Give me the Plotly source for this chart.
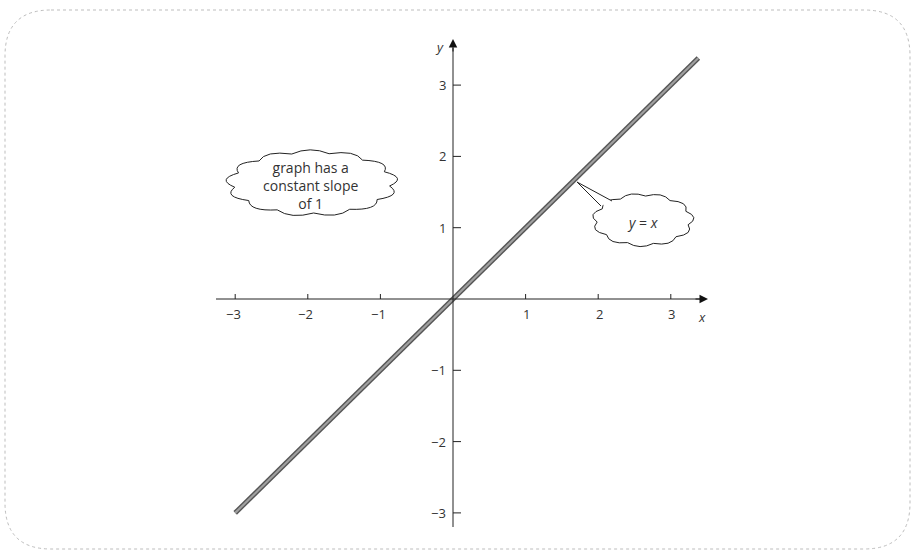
import math
import plotly.graph_objects as go

# ---- data ----
x_ticks = [-3, -2, -1, 1, 2, 3]
y_ticks = [-3, -2, -1, 1, 2, 3]
x_tick_labels = ["\u22123", "\u22122", "\u22121", "1", "2", "3"]
y_tick_labels = ["\u22123", "\u22122", "\u22121", "1", "2", "3"]
line_x = [-3.0, 3.38]
line_y = [-3.0, 3.38]
note_text = "graph has a<br>constant slope<br>of 1"
eq_text = "<i>y</i> = <i>x</i>"

# ---- geometry (pixel frame) ----
W, H = 914, 552
OX, OY = 453, 299      # origin in pixels
PXX, PXY = 72.6, 71.3  # pixels per unit along x and y


def dx(p):
    return (p - OX) / PXX


def dy(p):
    return (OY - p) / PXY


def cloud_path(cx, cy, rx, ry, bumps, puff, phase=0.0):
    """Scalloped cloud outline around an ellipse, given in pixels."""
    pts = []
    for i in range(bumps + 1):
        a = 2 * math.pi * i / bumps + phase
        pts.append((cx + rx * math.cos(a), cy + ry * math.sin(a)))
    s = f"M{dx(pts[0][0])},{dy(pts[0][1])}"
    for i in range(bumps):
        a = 2 * math.pi * (i + 0.5) / bumps + phase
        k = 1 + puff
        c = (cx + rx * k * math.cos(a), cy + ry * k * math.sin(a))
        p = pts[i + 1]
        s += f" Q{dx(c[0])},{dy(c[1])} {dx(p[0])},{dy(p[1])}"
    return s + " Z"


fig = go.Figure()

# the graph of y = x: dark edges with a grey core
fig.add_trace(go.Scatter(x=line_x, y=line_y, mode="lines",
                         line=dict(color="#555555", width=5), hoverinfo="skip"))
fig.add_trace(go.Scatter(x=line_x, y=line_y, mode="lines",
                         line=dict(color="#a0a0a0", width=2.2), hoverinfo="skip"))

# axes
fig.add_trace(go.Scatter(x=[dx(216), dx(700)], y=[0, 0], mode="lines",
                         line=dict(color="#222", width=1), hoverinfo="skip"))
fig.add_trace(go.Scatter(x=[0, 0], y=[dy(527), dy(48)], mode="lines",
                         line=dict(color="#222", width=1), hoverinfo="skip"))

# tick marks
tx, ty = [], []
for t in x_ticks:
    tx += [t, t, None]
    ty += [0, 5 / PXY, None]
for t in y_ticks:
    tx += [0, 8 / PXX, None]
    ty += [t, t, None]
fig.add_trace(go.Scatter(x=tx, y=ty, mode="lines",
                         line=dict(color="#222", width=1), hoverinfo="skip"))

family = "Open Sans, Liberation Sans, sans-serif"
font = dict(family=family, size=13, color="#333")
cfont = dict(family=family, size=14, color="#333")
ann = []
for t, lab in zip(x_ticks, x_tick_labels):
    ann.append(dict(x=t, y=0, text=lab, showarrow=False, yshift=-15,
                    xshift=-2 if t < 0 else 1, font=font))
for t, lab in zip(y_ticks, y_tick_labels):
    ann.append(dict(x=0, y=t, text=lab, showarrow=False, xanchor="right",
                    xshift=-5, font=font))

# arrowheads at the ends of the axes
ann.append(dict(x=dx(708), y=0, ax=-14, ay=0, text="", showarrow=True,
                arrowhead=2, arrowsize=1.7, arrowwidth=1, arrowcolor="#111"))
ann.append(dict(x=0, y=dy(39), ax=0, ay=14, text="", showarrow=True,
                arrowhead=2, arrowsize=1.7, arrowwidth=1, arrowcolor="#111"))
ann.append(dict(x=dx(702), y=dy(317), text="<i>x</i>", showarrow=False, font=font))
ann.append(dict(x=dx(439), y=dy(47), text="<i>y</i>", showarrow=False, font=font))

shapes = []
# rounded dotted frame
r = 46
x0, y0, x1, y1 = 5, 10, 910, 549
frame = (f"M{dx(x0 + r)},{dy(y0)} L{dx(x1 - r)},{dy(y0)} "
         f"Q{dx(x1)},{dy(y0)} {dx(x1)},{dy(y0 + r)} "
         f"L{dx(x1)},{dy(y1 - r)} Q{dx(x1)},{dy(y1)} {dx(x1 - r)},{dy(y1)} "
         f"L{dx(x0 + r)},{dy(y1)} Q{dx(x0)},{dy(y1)} {dx(x0)},{dy(y1 - r)} "
         f"L{dx(x0)},{dy(y0 + r)} Q{dx(x0)},{dy(y0)} {dx(x0 + r)},{dy(y0)} Z")
shapes.append(dict(type="path", path=frame,
                   line=dict(color="#bdbdbd", width=1, dash="dot"), layer="below"))

# cloud with the note
shapes.append(dict(type="path", path=cloud_path(312, 183, 78, 30, 13, 0.24, 0.1),
                   line=dict(color="#222", width=1), fillcolor="white"))
ann.append(dict(x=dx(311), y=dy(185), text=note_text, showarrow=False,
                font=cfont, align="center"))

# cloud labelling the line
shapes.append(dict(type="path", path=cloud_path(643, 220, 46, 24, 11, 0.26, 0.2),
                   line=dict(color="#222", width=1), fillcolor="white"))
pointer = f"M{dx(601)},{dy(206)} L{dx(577)},{dy(182)} L{dx(612)},{dy(201)}"
shapes.append(dict(type="path", path=pointer, line=dict(color="#222", width=1),
                   fillcolor="white"))
ann.append(dict(x=dx(643), y=dy(222), text=eq_text, showarrow=False, font=cfont))

fig.update_layout(
    width=W, height=H, margin=dict(l=0, r=0, t=0, b=0),
    paper_bgcolor="white", plot_bgcolor="white", showlegend=False,
    xaxis=dict(range=[dx(0), dx(W)], visible=False, fixedrange=True),
    yaxis=dict(range=[dy(H), dy(0)], visible=False, fixedrange=True),
    shapes=shapes, annotations=ann,
)

fig.write_html("out.html")
